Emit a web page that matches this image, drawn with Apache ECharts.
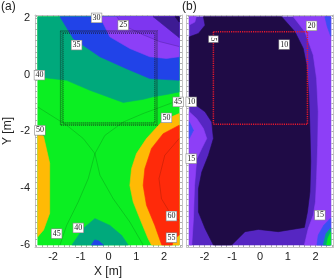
<!DOCTYPE html>
<html><head><meta charset="utf-8">
<script src="https://cdn.jsdelivr.net/npm/echarts@6/dist/echarts.min.js"></script>
<style>html,body{margin:0;padding:0;background:#fff}#c{width:336px;height:278px}</style>
</head><body><div id="c"></div>
<script>
// ---- axis ticks ----
const xTickLabels = [-2, -1, 0, 1, 2];
const yTickLabels = [-6, -4, -2, 0, 2];

// ---- panel (a): filled contour bands, [x m, y m] ----
const aGreen   = [[-2.55,-6],[2.55,-6],[2.55,2.04],[-2.55,2.04]];
const aTeal    = [[-2.55,2.04],[2.55,2.04],[2.55,-0.61],[2.09,-0.7],[1.61,-0.78],[1.25,-0.87],[0.53,-0.98],[-0.67,-0.55],[-1.51,-0.2],[-2.55,-0.08]];
const aBlue    = [[-1.75,2.04],[2.55,2.04],[2.55,-0.2],[1.49,-0.14],[0.65,0.21],[-0.31,0.63],[-1.27,1.27]];
const aPurple  = [[-0.31,2.04],[2.55,2.04],[2.55,0.63],[2.09,0.57],[1.49,0.63],[0.77,0.92],[0.05,1.33]];
const aPurple2 = [[0.3,2.04],[2.55,2.04],[2.55,0.99],[1.86,1.16],[1.26,1.4],[0.53,1.74]];
const aDark    = [[1.61,2.04],[2.55,2.04],[2.55,1.3]];
const aDarkest = [[2.4,2.04],[2.55,2.04],[2.55,1.85]];
const aOrangeL = [[-2.55,-2.0],[-2.34,-2.18],[-2.12,-3.12],[-2.12,-4.88],[-2.34,-5.47],[-2.55,-5.71]];
const aOrangeR = [[2.55,-1.37],[1.97,-1.61],[1.37,-2.25],[1.01,-2.78],[0.83,-3.31],[0.77,-3.9],[0.89,-4.48],[1.13,-5.07],[1.43,-5.78],[1.55,-6],[2.55,-6]];
const aRed     = [[2.55,-1.78],[1.97,-2.08],[1.55,-2.6],[1.31,-3.31],[1.25,-3.9],[1.37,-4.6],[1.67,-5.31],[1.92,-6],[2.3,-6],[2.35,-5.8],[2.55,-5.65]];
const aTealB   = [[-1.32,-6],[-0.91,-5.42],[-0.49,-5.07],[0.05,-5.31],[0.47,-5.66],[0.71,-6]];
const aBlueB   = [[-0.62,-6],[-0.5,-5.82],[-0.36,-5.85],[-0.18,-6]];
// contour lines inside bands
const aLine45a = [[-2.55,-1.14],[-1.51,-1.78],[-0.91,-2.25],[-0.49,-2.78],[-0.73,-3.66],[-1.09,-4.48],[-1.51,-5.31],[-1.75,-6]];
const aLine45b = [[2.55,-0.9],[1.25,-1.37],[0.53,-1.67],[-0.13,-2.14],[-0.49,-2.78],[-0.31,-3.54],[0.17,-4.37],[0.77,-5.19],[1.25,-6]];
const aLine60  = [[2.55,-2.25],[2.03,-2.84],[1.82,-3.66],[1.91,-4.37],[2.27,-4.95],[2.55,-5.13]];
const aLine25  = [[0.3,2.04],[0.53,1.74],[1.26,1.4],[1.86,1.16],[2.55,0.99]];
// contour labels [x, y, text]
const aLabels = [[-0.43,2.0,'30'],[0.53,1.74,'25'],[-1.15,1.04,'35'],[-2.49,-0.02,'40'],[2.51,-0.96,'45'],
  [2.09,-1.52,'50'],[-2.47,-1.96,'50'],[2.27,-4.98,'60'],[2.27,-5.74,'55'],[-1.09,-5.4,'40'],[-1.87,-5.6,'45']];

// ---- panel (b) ----
const bMid     = [[-2.55,-6],[2.55,-6],[2.55,2.04],[-2.55,2.04]];
const bLightR  = [[1.2,2.04],[2.55,2.04],[2.55,-6],[1.6,-6],[1.74,-5.42],[1.92,-4.95],[2.0,-4.48],[2.04,-3.66],[2.08,-2.49],[2.1,-1.31],[2.04,-0.14],[1.92,0.69],[1.62,1.51]];
const bLightL  = [[-2.55,-1.31],[-2.28,-1.55],[-2.04,-1.9],[-1.92,-2.25],[-2.1,-2.6],[-2.28,-2.96],[-2.36,-3.9],[-2.4,-5.07],[-2.46,-6],[-2.55,-6]];
const bLightTL = [[-2.55,2.04],[-2.3,2.04],[-2.35,1.85],[-2.55,1.75]];
const bBlueL   = [[-2.55,-1.66],[-2.4,-1.96],[-2.55,-2.25]];
const bBlueTR  = [[2.34,2.04],[2.55,2.04],[2.55,1.35],[2.42,1.7]];
const bDark    = [[-2.04,2.04],[0.78,2.04],[1.26,1.51],[1.56,0.92],[1.68,0.33],[1.76,-0.72],[1.8,-1.9],[1.83,-3.07],[1.8,-4.13],[1.71,-4.84],[1.6,-5.38],[0.66,-5.53],[-0.06,-5.45],[-0.54,-5.53],[-1.02,-6],[-1.68,-6],[-1.98,-5.42],[-2.22,-4.84],[-2.22,-4.02],[-2.1,-3.43],[-1.86,-2.84],[-1.68,-2.25],[-1.74,-1.67],[-1.98,-1.31],[-2.55,-0.9],[-2.55,1.33],[-2.22,1.45],[-1.98,1.74]];
const bBlueBR  = [[2.55,-5.05],[2.3,-5.3],[2.1,-5.65],[2.05,-6],[2.55,-6]];
const bTealBR  = [[2.55,-5.4],[2.38,-5.6],[2.28,-6],[2.55,-6]];
const bGreenBR = [[2.55,-5.55],[2.45,-5.75],[2.4,-6],[2.55,-6]];
const bLabels = [[-1.68,1.25,'5'],[0.87,1.06,'10'],[1.86,1.72,'20'],[-2.48,-0.96,'10'],[-2.48,-2.96,'15'],[2.16,-4.95,'15']];

// dotted study zone rectangle (outer and inner trace of panel a, single trace of panel b)
const zoneOuter = [[-1.73,1.54],[1.75,1.54],[1.75,-1.78],[-1.73,-1.78],[-1.73,1.54]];
const zoneInner = [[-1.64,1.46],[1.67,1.46],[1.67,-1.7],[-1.64,-1.7],[-1.64,1.46]];
const zoneRect  = [[-1.68,1.51],[1.71,1.51],[1.71,-1.75],[-1.68,-1.75],[-1.68,1.51]];

// ---- styles ----
const aLayers = [aGreen, aTeal, aBlue, aPurple, aPurple2, aDark, aDarkest, aOrangeL, aOrangeR, aRed, aTealB, aBlueB];
const aColors = ['#0bef22','#00a97c','#2143e8','#8c3ff7','#7e36f0','#3d1b93','#1e0a4c','#ffba05','#ffba05','#ff2a0a','#00a97c','#2143e8'];
const bLayers = [bMid, bLightR, bLightL, bLightTL, bBlueL, bBlueTR, bDark, bBlueBR, bTealBR, bGreenBR];
const bColors = ['#5626c2','#8d3ff7','#8d3ff7','#8d3ff7','#3a4ff4','#3a4ff4','#1f0b46','#3a4ff4','#00a97c','#0bef22'];
const aLines = [aLine45a, aLine45b, aLine60, aLine25];

const xMinor = []; for (let v = -2.6; v <= 2.61; v += 0.2) xMinor.push(+v.toFixed(2));
const yMinor = []; for (let v = -6; v <= 2.01; v += 0.2) yMinor.push(+v.toFixed(2));

function polySeries(gi, layers, colors) {
  return { type:'custom', xAxisIndex:gi*2, yAxisIndex:gi*2, silent:true, clip:true,
    data: layers.map((p,i)=>[p[0][0], p[0][1], i]),
    renderItem: (params, api) => {
      const i = api.value(2);
      return { type:'polygon', z2:i, shape:{ points: layers[i].map(p=>api.coord(p)) },
        style:{ fill: colors[i], stroke: colors[i], lineWidth:0.6 } };
    } };
}
function lineSeries(gi, lines, stroke, width, dash, z) {
  return { type:'custom', xAxisIndex:gi*2, yAxisIndex:gi*2, silent:true, clip:true, z:z,
    data: lines.map((p,i)=>[p[0][0], p[0][1], i]),
    renderItem: (params, api) => {
      const i = api.value(2);
      return { type:'polyline', shape:{ points: lines[i].map(p=>api.coord(p)) },
        style:{ fill:null, stroke:stroke, lineWidth:width, lineDash:dash } };
    } };
}
function labelSeries(gi, labels) {
  return { type:'custom', xAxisIndex:gi*2, yAxisIndex:gi*2, silent:true, clip:false, z:10,
    data: labels.map(l=>[l[0], l[1]]),
    renderItem: (params, api) => {
      const t = labels[params.dataIndex][2];
      const c = api.coord([api.value(0), api.value(1)]);
      return { type:'text', x:c[0], y:c[1], rotation: t === '5' ? -Math.PI/2 : 0,
        style:{ text:t, fill:'#222', font:'8px "Liberation Serif"', align:'center', verticalAlign:'middle',
          backgroundColor:'#fff', borderColor:'#8a8a8a', borderWidth:0.6, padding:[1,1,0,1] } };
    } };
}

function xAxes(gi) {
  const common = { gridIndex:gi, type:'value', min:-2.65, max:2.65, splitLine:{show:false},
    axisLine:{ show:true, onZero:false, lineStyle:{ color:'#c4c4c4', width:1 } },
    axisTick:{ show:true, inside:true, length:2, customValues:xMinor, lineStyle:{ color:'#b0b0b0', width:1 } } };
  return [
    Object.assign({}, common, { position:'bottom',
      axisLabel:{ customValues:xTickLabels, color:'#222', fontSize:11, margin:4, fontFamily:'Liberation Sans' } }),
    Object.assign({}, common, { position:'top', axisLabel:{ show:false } })
  ];
}
function yAxes(gi, showLabels) {
  const common = { gridIndex:gi, type:'value', min:-6.07, max:2.1, splitLine:{show:false},
    axisLine:{ show:true, onZero:false, lineStyle:{ color:'#c4c4c4', width:1 } },
    axisTick:{ show:true, inside:true, length:2, customValues:yMinor, lineStyle:{ color:'#b0b0b0', width:1 } } };
  return [
    Object.assign({}, common, { position:'left',
      axisLabel:{ show:showLabels, customValues:yTickLabels, color:'#222', fontSize:11, margin:5, fontFamily:'Liberation Sans' } }),
    Object.assign({}, common, { position:'right', axisLabel:{ show:false } })
  ];
}

const chart = echarts.init(document.getElementById('c'), null, { renderer:'canvas' });
chart.setOption({
  animation:false,
  grid:[ { left:35, top:15, width:147, height:232 }, { left:186.5, top:15, width:147, height:232 } ],
  xAxis:[...xAxes(0), ...xAxes(1)],
  yAxis:[...yAxes(0, true), ...yAxes(1, false)],
  graphic:[
    { type:'text', left:1, top:1, style:{ text:'(a)', font:'12px "Liberation Sans"', fill:'#222' } },
    { type:'text', left:182, top:1, style:{ text:'(b)', font:'12px "Liberation Sans"', fill:'#222' } },
    { type:'text', x:108, y:272, style:{ text:'X [m]', font:'12px "Liberation Sans"', fill:'#222', align:'center', verticalAlign:'middle' } },
    { type:'text', x:8, y:131, rotation:Math.PI/2, style:{ text:'Y [m]', font:'12px "Liberation Sans"', fill:'#222', align:'center', verticalAlign:'middle' } }
  ],
  series:[
    polySeries(0, aLayers, aColors),
    lineSeries(0, aLines, 'rgba(0,0,0,0.22)', 0.7, null, 3),
    lineSeries(0, [zoneOuter, zoneInner], 'rgba(20,20,20,0.7)', 1.2, [1,1], 4),
    lineSeries(0, [zoneRect], 'rgba(40,40,40,0.3)', 1.5, [1,1], 4),
    labelSeries(0, aLabels),
    polySeries(1, bLayers, bColors),
    lineSeries(1, [zoneRect], '#e3192e', 1.5, [1.2,1], 4),
    labelSeries(1, bLabels)
  ]
});
</script></body></html>
